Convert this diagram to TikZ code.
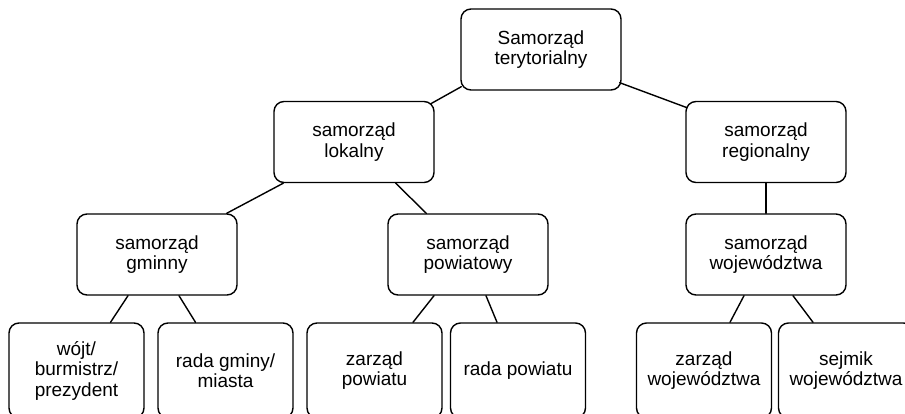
\documentclass[tikz,border=0pt]{standalone}
\usepackage{fontspec}
\setmainfont{Liberation Sans}
\usetikzlibrary{calc}
\tikzset{
  unit/.style={draw=black, line width=1.4pt, rounded corners=10pt, fill=white,
    align=center, inner sep=0pt, minimum width=160pt, minimum height=81pt,
    font=\fontsize{19}{20.5}\selectfont},
  leaf/.style={unit, minimum width=135pt, minimum height=95pt},
  link/.style={line width=1.4pt, line cap=round}
}
\begin{document}
\begin{tikzpicture}[x=1pt,y=-1pt]
  \useasboundingbox (0,0) rectangle (905,414);
  \clip (0,0) rectangle (905,414);
  \fill[white] (0,0) rectangle (905,414);

  % levels of self-government
  \node[unit] (top) at (541,49.5) {Samorząd\\terytorialny};
  \node[unit] (lok) at (354,142) {samorząd\\lokalny};
  \node[unit] (reg) at (766,142) {samorząd\\regionalny};
  \node[unit] (gmi) at (157,254.5) {samorząd\\gminny};
  \node[unit] (pow) at (468,254.5) {samorząd\\powiatowy};
  \node[unit] (woj) at (766,254.5) {samorząd\\województwa};

  % organs
  \node[leaf] (wojt) at (76.5,370.5) {wójt/\\burmistrz/\\prezydent};
  \node[leaf] (rgm) at (225.5,370.5) {rada gminy/\\miasta};
  \node[leaf] (zpw) at (374.5,370.5) {zarząd\\powiatu};
  \node[leaf] (rpw) at (518,370.5) {rada powiatu};
  \node[leaf] (zwj) at (704,370.5) {zarząd\\województwa};
  \node[leaf] (swj) at (846,370.5) {sejmik\\województwa};

  % connectors
  \draw[link] ($(top.south west)+(1,-4)$) -- ($(lok.north east)+(-4,3)$);
  \draw[link] ($(top.south east)+(-2,-8)$) -- ($(reg.north west)+(2,7)$);
  \draw[link] ($(lok.south west)+(10,0)$) -- ($(gmi.north east)+(-11,0)$);
  \draw[link] ($(lok.south east)+(-39,0)$) -- ($(pow.north west)+(39,0)$);
  \draw[link] (reg.south) -- (woj.north);
  \draw[link] ($(gmi.south)+(-29,0)$) -- ($(wojt.north)+(34,0)$);
  \draw[link] ($(gmi.south)+(22,0)$) -- ($(rgm.north)+(-30,0)$);
  \draw[link] ($(pow.south)+(-34,0)$) -- ($(zpw.north)+(38.5,0)$);
  \draw[link] ($(pow.south)+(18,0)$) -- ($(rpw.north)+(-21,0)$);
  \draw[link] ($(woj.south)+(-22,0)$) -- ($(zwj.north)+(26,0)$);
  \draw[link] ($(woj.south)+(27,0)$) -- ($(swj.north)+(-33,0)$);
\end{tikzpicture}
\end{document}
